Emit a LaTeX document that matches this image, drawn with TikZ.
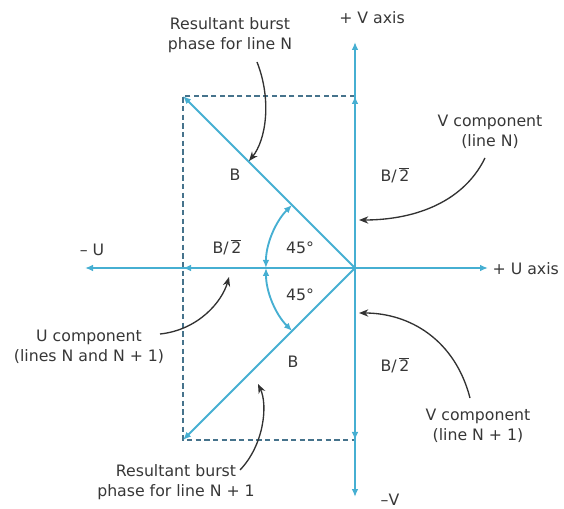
\documentclass[tikz,border=0pt]{standalone}
\usepackage{fontspec}
\setmainfont{DejaVu Sans}
\usetikzlibrary{arrows.meta,calc}
\definecolor{axcol}{RGB}{70,175,210}
\definecolor{dashcol}{RGB}{70,115,140}
\definecolor{txt}{RGB}{55,55,55}
\definecolor{notecol}{RGB}{50,50,50}
\newcommand{\halfroot}{B/\,$\overline{\mbox{2}}$}
\begin{document}
\begin{tikzpicture}[x=0.75pt,y=-0.75pt,
  vec/.style={draw=axcol,line width=1.4pt,-{Latex[length=6pt,width=5pt]}},
  arcvec/.style={draw=axcol,line width=1.4pt,{Latex[length=6pt,width=5pt]}-{Latex[length=6pt,width=5pt]}},
  dashline/.style={draw=dashcol,line width=0.8pt,dash pattern=on 4pt off 2.5pt},
  note/.style={draw=notecol,line width=1pt,-{Stealth[length=7pt,width=5.5pt]}},
  lbl/.style={text=txt,inner sep=1pt,font=\fontsize{11.8}{15}\selectfont},
  mlbl/.style={lbl,align=center}]
\useasboundingbox (0,0) rectangle (564,509);
% key points
\coordinate (O) at (355,268);
\coordinate (Vtop) at (355,42);
\coordinate (Vbot) at (355,497);
\coordinate (Uright) at (488,268);
\coordinate (Uleft) at (85,268);
\coordinate (TL) at (183,96);
\coordinate (BL) at (183,440);
\coordinate (TR) at (355,96);
\coordinate (BR) at (355,440);
\coordinate (UL) at (183,268);
% dashed box
\draw[dashline] (TR) -- (TL) -- (BL) -- (BR);
% axes and vectors
\draw[vec] (O) -- (Vtop);
\draw[vec] (O) -- (Vbot);
\draw[vec] (O) -- (Uright);
\draw[vec] (O) -- (Uleft);
\draw[vec] (O) -- (UL);
\draw[vec] (O) -- (TR);
\draw[vec] (O) -- (BR);
\draw[vec] (O) -- (TL);
\draw[vec] (O) -- (BL);
% angle arcs
\coordinate (a1) at ($(O)+(-63,-63)$);
\coordinate (a2) at ($(O)+(-89,0)$);
\draw[arcvec] (a1) arc[start angle=225,end angle=180,radius=89];
\draw[arcvec] (a2) arc[start angle=180,end angle=135,radius=89];
% labels
\node[mlbl] (RN) at (230,35) {Resultant burst\\phase for line N};
\node[lbl] (Vax) at (372,18) {+ V axis};
\node[lbl] (mU) at (92,250) {– U};
\node[lbl,anchor=west] (Uax) at (491,269) {+ U axis};
\node[lbl] (mV) at (390,500) {–V};
\node[lbl] (B1) at (235,175) {B};
\node[lbl] (B2) at (293,362) {B};
\node[lbl] (S1) at (227,247) {\halfroot};
\node[lbl] (S2) at (395,175) {\halfroot};
\node[lbl] (S3) at (395,365) {\halfroot};
\node[lbl] (A1) at (300,248) {45°};
\node[lbl] (A2) at (300,295) {45°};
\node[mlbl] (VN) at (490,132) {V component\\(line N)};
\node[mlbl] (VN1) at (478,426) {V component\\(line N + 1)};
\node[mlbl] (UC) at (89,347) {U component\\(lines N and N + 1)};
\node[mlbl] (RN1) at (176,482) {Resultant burst\\phase for line N + 1};
% annotation pointers
\coordinate (sRN) at (257,62);
\coordinate (eRN) at (249,161);
\coordinate (sVN) at (485,158);
\coordinate (eVN) at (359,220);
\coordinate (sVN1) at (470,398);
\coordinate (eVN1) at (359,313);
\coordinate (sUC) at (160,334);
\coordinate (eUC) at (229,277);
\coordinate (sRN1) at (240,470);
\coordinate (eRN1) at (258,384);
\draw[note] (sRN) .. controls (272,100) and (266,140) .. (eRN);
\draw[note] (sVN) .. controls (462,205) and (410,220) .. (eVN);
\draw[note] (sVN1) .. controls (455,340) and (410,313) .. (eVN1);
\draw[note] (sUC) .. controls (198,330) and (222,302) .. (eUC);
\draw[note] (sRN1) .. controls (264,445) and (268,405) .. (eRN1);
\end{tikzpicture}
\end{document}
